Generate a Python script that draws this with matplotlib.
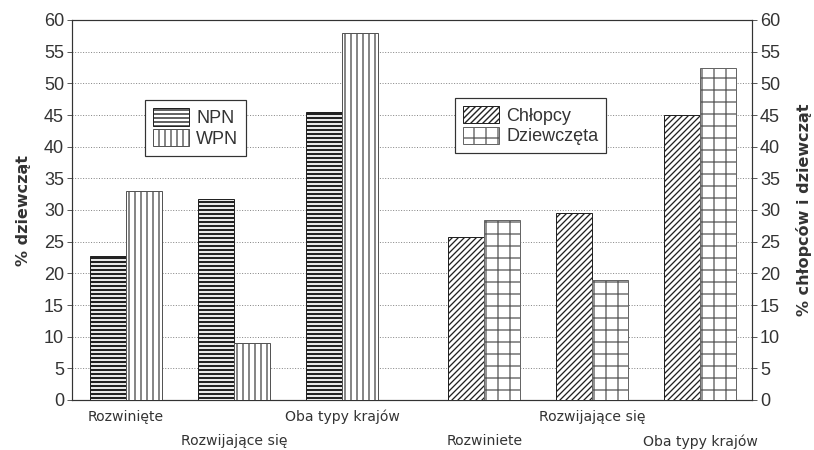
import numpy as np
import matplotlib
matplotlib.use("Agg")
from matplotlib import pyplot as plt

# dane
kategorie_l = ["Rozwinięte", "Rozwijające się", "Oba typy krajów"]
kategorie_p = ["Rozwiniete", "Rozwijające się", "Oba typy krajów"]
npn = [22.7, 31.8, 45.5]
wpn = [33.0, 9.0, 57.9]
chlopcy = [25.7, 29.6, 45.0]
dziewczeta = [28.5, 19.0, 52.5]

plt.rcParams['font.family'] = ['Liberation Sans', 'DejaVu Sans']
plt.rcParams['hatch.linewidth'] = 1.4
ciemny = '#333333'

fig = plt.figure(figsize=(814/72, 450/72), dpi=72)
ax = fig.add_axes([72/814, 1-400/450, 680/814, 380/450])

w = 1.0
xl = 1.5 + 3*np.arange(3)
xp = 11.45 + 3*np.arange(3)

b1 = ax.bar(xl - w/2, npn, w, facecolor='white', edgecolor='#222222', hatch='---', lw=1, label='NPN', zorder=3)
b2 = ax.bar(xl + w/2, wpn, w, facecolor='white', edgecolor='#555555', hatch='||', lw=1, label='WPN', zorder=3)
b3 = ax.bar(xp - w/2, chlopcy, w, facecolor='white', edgecolor='#222222', hatch='////', lw=1, label='Chłopcy', zorder=3)
b4 = ax.bar(xp + w/2, dziewczeta, w, facecolor='white', edgecolor='#666666', hatch='+', lw=1, label='Dziewczęta', zorder=3)

# grubsze linie kreskowania dla NPN
for bary, grubosc in ((b1, 2.2), (b2, 1.4), (b3, 1.3), (b4, 1.4)):
    for p in bary:
        if hasattr(p, 'set_hatch_linewidth'):
            p.set_hatch_linewidth(grubosc)

ax.set_xlim(0, 680/36)
ax.set_ylim(0, 60)
ax.set_yticks(np.arange(0, 61, 5))
ax.yaxis.grid(True, linestyle=':', color='#888888', lw=1)
ax.set_axisbelow(True)

ax.set_xticks(np.concatenate([xl, xp]))
ax.set_xticklabels([kategorie_l[0], "\n" + kategorie_l[1], kategorie_l[2],
                    "\n" + kategorie_p[0], kategorie_p[1], "\n" + kategorie_p[2]],
                   family='DejaVu Sans', fontsize=14, color=ciemny)
for lbl in ax.get_xticklabels():
    lbl.set_linespacing(1.9)
ax.tick_params(axis='x', length=0, pad=10)
ax.tick_params(axis='y', direction='out', length=5, labelsize=18, colors=ciemny, pad=3)

for s in ax.spines.values():
    s.set_color(ciemny)
    s.set_linewidth(1.2)

ax.set_ylabel('% dziewcząt', family='DejaVu Sans', fontweight='bold', fontsize=16, color=ciemny, labelpad=13)

ax2 = ax.twinx()
ax2.set_ylim(0, 60)
ax2.set_yticks(np.arange(0, 61, 5))
ax2.tick_params(axis='y', direction='out', length=5, labelsize=18, colors=ciemny, pad=3)
for s in ax2.spines.values():
    s.set_visible(False)
ax2.set_ylabel('% chłopców i dziewcząt', family='DejaVu Sans', fontweight='bold', fontsize=16, color=ciemny, labelpad=16)

opcje = dict(loc='upper left', borderaxespad=0, fancybox=False, edgecolor=ciemny, fontsize=18,
             handlelength=2.0, handleheight=1.1, labelspacing=0.1, handletextpad=0.4,
             borderpad=0.45, framealpha=1)
leg1 = ax.legend(handles=[b1, b2], bbox_to_anchor=(0.107, 0.789), **opcje)
leg1.get_frame().set_linewidth(1.2)
for t in leg1.get_texts():
    t.set_color(ciemny)
ax.add_artist(leg1)

leg2 = ax.legend(handles=[b3, b4], bbox_to_anchor=(0.563, 0.795), **opcje)
leg2.get_frame().set_linewidth(1.2)
for t in leg2.get_texts():
    t.set_color(ciemny)

fig.savefig('out.png', dpi=72, facecolor='white')
